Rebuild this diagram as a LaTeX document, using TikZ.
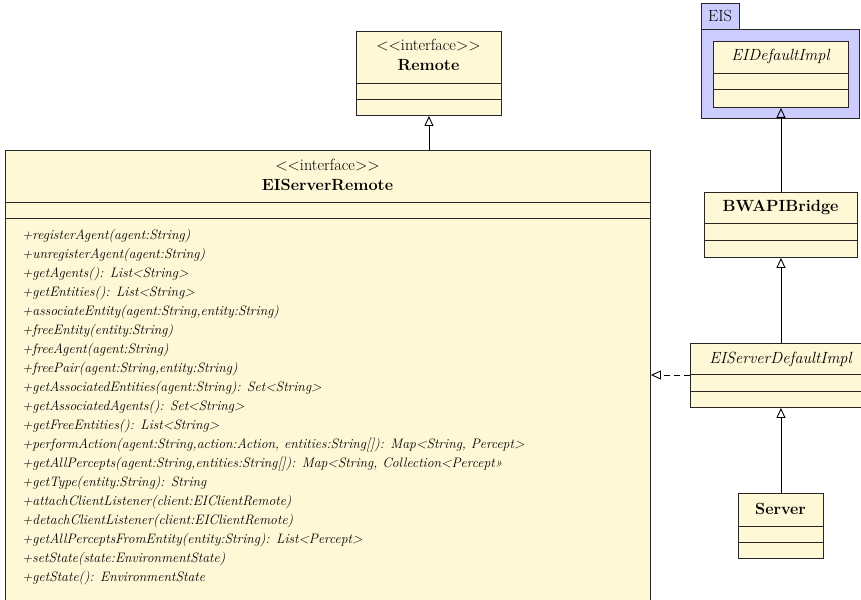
\documentclass[tikz,border=0pt]{standalone}
\usetikzlibrary{arrows.meta}
\definecolor{classfill}{RGB}{255,248,214}
\definecolor{pkgfill}{RGB}{204,204,255}
\newcommand\umlfont{\fontsize{16.2}{19}\selectfont}
\newcommand\opfont{\fontsize{13.7}{19}\selectfont}
\begin{document}
\begin{tikzpicture}[x=1pt,y=1pt,
  classbox/.style={draw=black!85, fill=classfill, line width=0.9pt, rectangle, inner sep=0pt, anchor=north west},
  pkgbox/.style={draw=black!85, fill=pkgfill, line width=0.9pt, rectangle, inner sep=0pt, anchor=north west},
  sep/.style={draw=black!85, line width=0.9pt},
  ttl/.style={inner sep=0pt, anchor=base, font=\umlfont},
  method/.style={inner sep=0pt, anchor=base west, font=\opfont\itshape},
  inherit/.style={draw=black, line width=0.9pt, -{Triangle[open, length=10pt, width=9pt]}},
  realize/.style={inherit, dash pattern=on 6pt off 4pt}]
\useasboundingbox (0,0) rectangle (861,-599);
\clip (0,0) rectangle (861,-599);

% interface Remote
\node[classbox, minimum width=145pt, minimum height=84pt] (remote) at (356,-31) {};
\draw[sep] (remote.west |- 0,-83) -- (remote.east |- 0,-83);
\draw[sep] (remote.west |- 0,-99) -- (remote.east |- 0,-99);
\node[ttl] (remst) at (428.5,-51) {<{}<interface>{}>};
\node[ttl] (remname) at (428.5,-70.7) {\bfseries Remote};

% interface EIServerRemote
\node[classbox, minimum width=645pt, minimum height=460pt] (eisr) at (5,-150) {};
\draw[sep] (eisr.west |- 0,-202) -- (eisr.east |- 0,-202);
\draw[sep] (eisr.west |- 0,-218) -- (eisr.east |- 0,-218);
\node[ttl] (eisrst) at (327.5,-170.7) {<{}<interface>{}>};
\node[ttl] (eisrname) at (327.5,-190.7) {\bfseries EIServerRemote};
\foreach \m [count=\i] in {
  {+registerAgent(agent:String)},
  {+unregisterAgent(agent:String)},
  {+getAgents(): List<String>},
  {+getEntities(): List<String>},
  {+associateEntity(agent:String,entity:String)},
  {+freeEntity(entity:String)},
  {+freeAgent(agent:String)},
  {+freePair(agent:String,entity:String)},
  {+getAssociatedEntities(agent:String): Set<String>},
  {+getAssociatedAgents(): Set<String>},
  {+getFreeEntities(): List<String>},
  {+performAction(agent:String,action:Action, entities:String[]): Map<String, Percept>},
  {+getAllPercepts(agent:String,entities:String[]): Map<String, Collection<Percept»},
  {+getType(entity:String): String},
  {+attachClientListener(client:EIClientRemote)},
  {+detachClientListener(client:EIClientRemote)},
  {+getAllPerceptsFromEntity(entity:String): List<Percept>},
  {+setState(state:EnvironmentState)},
  {+getState(): EnvironmentState}}
  \node[method] (m\i) at (22,{-239.5-19*(\i-1)}) {\m};

% package EIS
\node[pkgbox, minimum width=38pt, minimum height=26pt] (eistab) at (701,-3) {};
\node[pkgbox, minimum width=158pt, minimum height=89pt] (eis) at (701,-29) {};
\node[ttl] (eisname) at (720,-21.7) {EIS};
\node[classbox, minimum width=135pt, minimum height=66pt] (eidi) at (713,-41) {};
\draw[sep] (eidi.west |- 0,-73) -- (eidi.east |- 0,-73);
\draw[sep] (eidi.west |- 0,-89) -- (eidi.east |- 0,-89);
\node[ttl] (eidiname) at (780.5,-60.7) {\itshape EIDefaultImpl};

% class BWAPIBridge
\node[classbox, minimum width=153pt, minimum height=65pt] (bwapi) at (704,-192) {};
\draw[sep] (bwapi.west |- 0,-223) -- (bwapi.east |- 0,-223);
\draw[sep] (bwapi.west |- 0,-240) -- (bwapi.east |- 0,-240);
\node[ttl] (bwapiname) at (780.5,-211.7) {\bfseries BWAPIBridge};

% class EIServerDefaultImpl
\node[classbox, minimum width=180pt, minimum height=64pt] (eisdi) at (690,-343) {};
\draw[sep] (eisdi.west |- 0,-374) -- (eisdi.east |- 0,-374);
\draw[sep] (eisdi.west |- 0,-391) -- (eisdi.east |- 0,-391);
\node[ttl] (eisdiname) at (780.5,-363) {\itshape EIServerDefaultImpl};

% class Server
\node[classbox, minimum width=85pt, minimum height=65pt] (server) at (738,-493) {};
\draw[sep] (server.west |- 0,-526) -- (server.east |- 0,-526);
\draw[sep] (server.west |- 0,-542) -- (server.east |- 0,-542);
\node[ttl] (servername) at (780.5,-514) {\bfseries Server};

% relations
\coordinate (rl) at (0,-375);
\draw[inherit] (remote.south |- eisr.north) -- (remote.south);
\draw[inherit] (bwapi.north) -- (eidi.south);
\draw[inherit] (bwapi.south |- eisdi.north) -- (bwapi.south);
\draw[inherit] (server.north) -- (server.north |- eisdi.south);
\draw[realize] (eisdi.west |- rl) -- (eisr.east |- rl);
\end{tikzpicture}
\end{document}
